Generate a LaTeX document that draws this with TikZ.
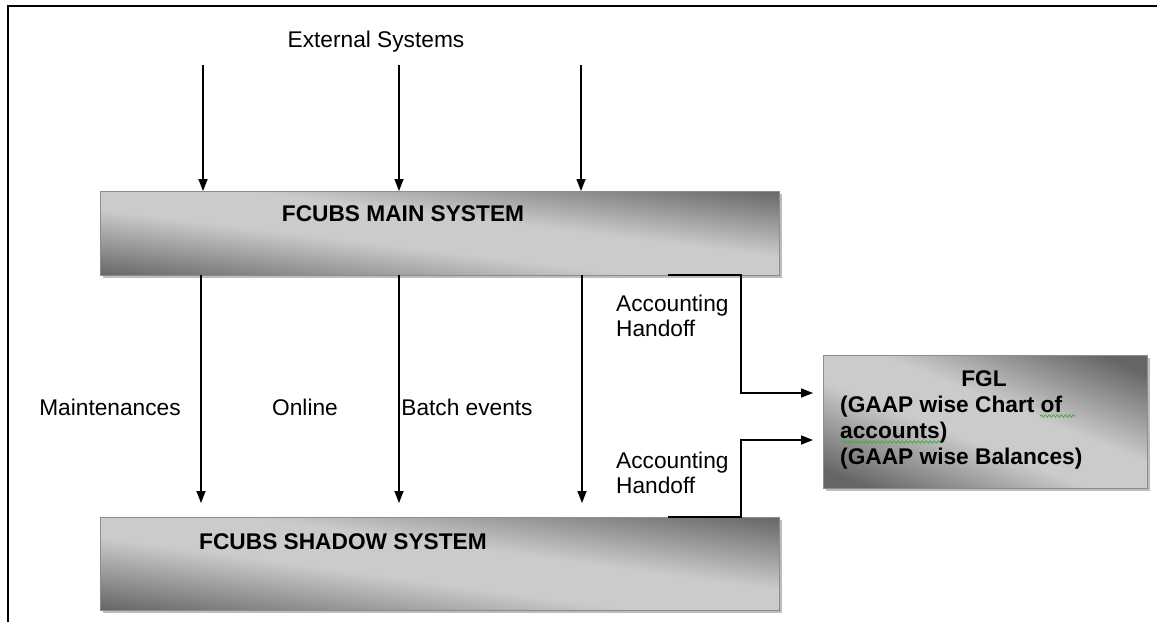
\documentclass[tikz,border=0pt]{standalone}
\usepackage{fontspec}
\setmainfont{Liberation Sans}
\usetikzlibrary{arrows.meta,shadows,decorations.pathmorphing}
\definecolor{boxdark}{HTML}{666666}
\definecolor{boxlight}{HTML}{CBCBCB}
\definecolor{boxedge}{HTML}{8C8C8C}
\definecolor{shadowgray}{HTML}{BDBDBD}
\definecolor{spellgreen}{HTML}{3CB043}
\pgfdeclareverticalshading{boxshade}{100bp}{color(0bp)=(boxdark); color(22bp)=(boxdark); color(44bp)=(boxlight); color(56bp)=(boxlight); color(78bp)=(boxdark); color(100bp)=(boxdark)}
\begin{document}
\begin{tikzpicture}[x=1pt,y=-1pt,
  sysbox/.style={draw=boxedge,line width=0.8pt,shading=boxshade,drop shadow={shadow xshift=3pt,shadow yshift=-3pt,fill=shadowgray,opacity=1},inner sep=0pt,outer sep=0pt},
  lbl/.style={font=\fontsize{22.7}{25}\selectfont,inner sep=0pt},
  blbl/.style={inner sep=0pt,font=\fontsize{22.7}{26}\selectfont\bfseries},
  arr/.style={line width=1.4pt,-{Triangle[length=12pt,width=9pt]}},
  frame/.style={line width=2.5pt},
  spell/.style={spellgreen,line width=0.8pt,decorate,decoration={snake,amplitude=1.2pt,segment length=4pt}}
]
\useasboundingbox (0,0) rectangle (1157,622);
% frame
\draw[frame] (8,622) -- (8,6) -- (1157,6);
% boxes
\node[sysbox,shading angle=-7,minimum width=679pt,minimum height=84pt] (main) at (439.5,233) {};
\node[sysbox,shading angle=-7.8,minimum width=679pt,minimum height=93pt] (shadow) at (439.5,563.5) {};
\node[sysbox,shading angle=-22,minimum width=324pt,minimum height=133pt] (fgl) at (985,421.5) {};
% box texts
\node[blbl,anchor=base] (maint) at (403,221) {FCUBS MAIN SYSTEM};
\node[blbl,anchor=base] (shadowt) at (343,549) {FCUBS SHADOW SYSTEM};
\node[blbl,anchor=base] (fglt) at (984,386) {FGL};
\node[blbl,anchor=base west] (fgl1) at (840,412) {(GAAP wise Chart of};
\node[blbl,anchor=base west] (fgl2) at (840,438) {accounts)};
\node[blbl,anchor=base west] (fgl3) at (840,464) {(GAAP wise Balances)};
\draw[spell] (1040,416) -- (1076,416);
\draw[spell] (841,442) -- (940,442);
% labels
\node[lbl,anchor=base] (ext) at (376,47) {External Systems};
\node[lbl,anchor=base] (lmaint) at (110,415) {Maintenances};
\node[lbl,anchor=base] (lonline) at (305,415) {Online};
\node[lbl,anchor=base] (lbatch) at (467,415) {Batch events};
\node[lbl,anchor=base west] (ah1a) at (616,311) {Accounting};
\node[lbl,anchor=base west] (ah1b) at (616,336) {Handoff};
\node[lbl,anchor=base west] (ah2a) at (616,468) {Accounting};
\node[lbl,anchor=base west] (ah2b) at (616,493) {Handoff};
% incoming arrows from external systems
\coordinate (s1) at (203,65);
\coordinate (s2) at (399,65);
\coordinate (s3) at (581,65);
\draw[arr] (s1) -- (s1 |- main.north);
\draw[arr] (s2) -- (s2 |- main.north);
\draw[arr] (s3) -- (s3 |- main.north);
% main to shadow
\coordinate (d1) at (201,503);
\coordinate (d2) at (399,503);
\coordinate (d3) at (582,503);
\draw[arr] (main.south -| d1) -- (d1);
\draw[arr] (main.south -| d2) -- (d2);
\draw[arr] (main.south -| d3) -- (d3);
% accounting handoff
\coordinate (hx) at (668,0);
\coordinate (b1) at (741,393);
\coordinate (e1) at (813,393);
\coordinate (b2) at (741,440);
\coordinate (e2) at (813,440);
\draw[arr] (main.south -| hx) -| (b1) -- (e1);
\draw[arr] (shadow.north -| hx) -| (b2) -- (e2);
\end{tikzpicture}
\end{document}
